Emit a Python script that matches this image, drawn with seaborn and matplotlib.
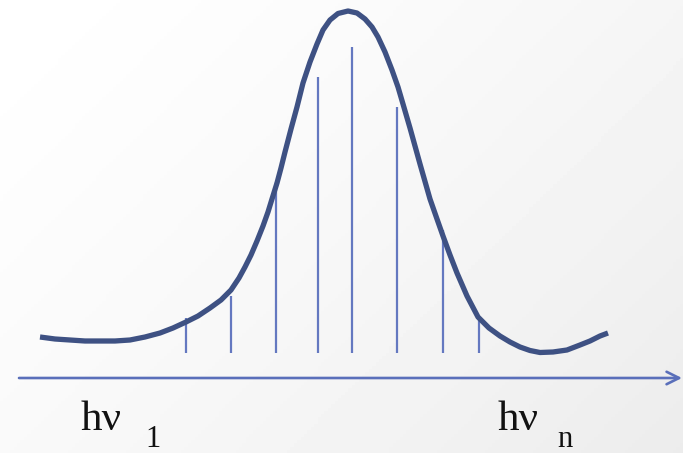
import numpy as np
import matplotlib
matplotlib.use("Agg")
import matplotlib.pyplot as plt
import seaborn as sns

# Emission band envelope: photon energy (x) against intensity (y)
curve_x = [40, 55, 70, 85, 100, 115, 130, 145, 160, 173, 186, 198, 210, 221,
           231, 239, 245, 251, 257, 263, 268, 272, 277, 281, 285, 291, 297,
           303, 310, 317, 323, 330, 338, 348, 357, 365, 372, 378, 385, 392,
           398, 403, 410, 420, 430, 437, 443, 450, 457, 467, 478, 489, 500,
           510, 520, 530, 540, 553, 567, 580, 590, 600, 608]
curve_y = [41, 39, 38, 37, 37, 37, 38, 41, 45, 50, 56, 62, 70, 78,
           88, 100, 111, 123, 137, 152, 166, 179, 195, 210, 226, 249, 271,
           295, 316, 334, 348, 358, 364.5, 367, 365, 359, 351, 341, 326, 308,
           291, 274, 250, 214, 179, 159, 142, 123, 105, 82, 61, 50, 42,
           36, 31, 27.5, 25.5, 26, 28, 33, 37, 42, 45]

# Individual spectral lines sampled under the envelope
line_x = [186, 231, 276, 318, 352, 397, 443, 479]
line_top = [60, 82, 196, 301, 331, 271, 148, 60]
line_base = 25

# Energy axis labels
label_left = ("hν", "1")
label_right = ("hν", "n")

W, H = 683, 453
fig = plt.figure(figsize=(W / 100, H / 100), dpi=100)
ax = fig.add_axes([0, 0, 1, 1])
ax.set_xlim(0, W)
ax.set_ylim(-75, 378)
ax.axis("off")

# soft background shading toward the lower right
gx, gy = np.meshgrid(np.linspace(0, 1, 200), np.linspace(0, 1, 140))
shade = 1.0 - 0.075 * np.clip((gx * 0.9 + gy * 0.6) / 1.5, 0, 1) ** 1.3
ax.imshow(shade, cmap="gray", vmin=0, vmax=1, extent=(0, W, -75, 378),
          aspect="auto", zorder=0, origin="upper")

line_color = "#6478C0"
curve_color = "#3E5183"

ax.vlines(line_x, line_base, line_top, color=line_color, linewidth=1.6, zorder=2)

sns.lineplot(x=curve_x, y=curve_y, sort=False, ax=ax, color=curve_color,
             linewidth=3.8, zorder=3, solid_capstyle="butt", solid_joinstyle="round")

# energy axis with open arrowhead
ax.annotate("", xy=(682, 0), xytext=(19, 0),
            arrowprops=dict(arrowstyle="->,head_length=0.9,head_width=0.45",
                            color="#5A6FBA", linewidth=1.9, shrinkA=0, shrinkB=0),
            zorder=2)

font = "Liberation Serif"
ax.text(81, -52, label_left[0], fontsize=31, family=font, color="#111111",
        va="baseline", ha="left")
ax.text(145, -69, label_left[1], fontsize=22, family=font, color="#111111",
        va="baseline", ha="left")
ax.text(498, -52, label_right[0], fontsize=31, family=font, color="#111111",
        va="baseline", ha="left")
ax.text(557, -69, label_right[1], fontsize=22, family=font, color="#111111",
        va="baseline", ha="left")

fig.savefig("out.png", dpi=100)
